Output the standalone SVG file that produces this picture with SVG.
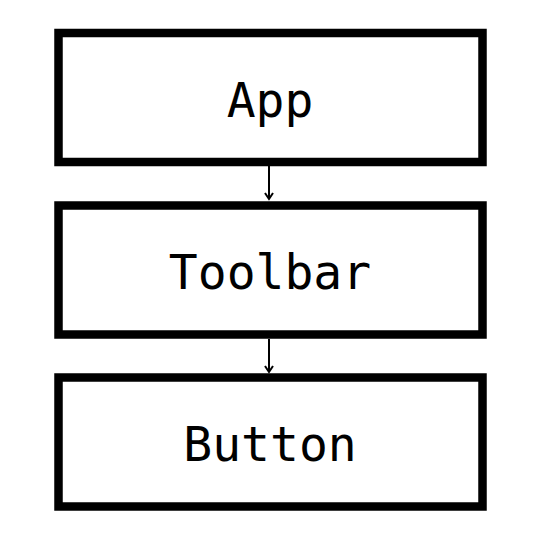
<svg xmlns="http://www.w3.org/2000/svg" width="540" height="540" viewBox="0 0 540 540">
<style>
.box{fill:#fff;stroke:#000;stroke-width:8.5}
.lbl{font-family:"DejaVu Sans Mono",monospace;font-size:48px;fill:#000;text-anchor:middle}
.edge{stroke:#000;stroke-width:2;fill:none}
</style>
<defs>
<marker id="arr" markerWidth="12" markerHeight="12" refX="8" refY="6" orient="auto" markerUnits="userSpaceOnUse" viewBox="0 0 12 12">
<path d="M2,2 L8,6 L2,10" fill="none" stroke="#000" stroke-width="2"/>
</marker>
</defs>
<rect width="540" height="540" fill="#fff"/>
<g id="edges">
<line class="edge" x1="269" y1="166" x2="269" y2="199" marker-end="url(#arr)"/>
<line class="edge" x1="269" y1="339" x2="269" y2="372" marker-end="url(#arr)"/>
</g>
<g id="app">
<rect class="box" x="58.5" y="33" width="424" height="129"/>
<text class="lbl" x="270" y="116.5">App</text>
</g>
<g id="toolbar">
<rect class="box" x="58.5" y="205.5" width="424" height="129"/>
<text class="lbl" x="270" y="288.5">Toolbar</text>
</g>
<g id="button">
<rect class="box" x="58.5" y="377.5" width="424" height="129"/>
<text class="lbl" x="270" y="461">Button</text>
</g>
</svg>
